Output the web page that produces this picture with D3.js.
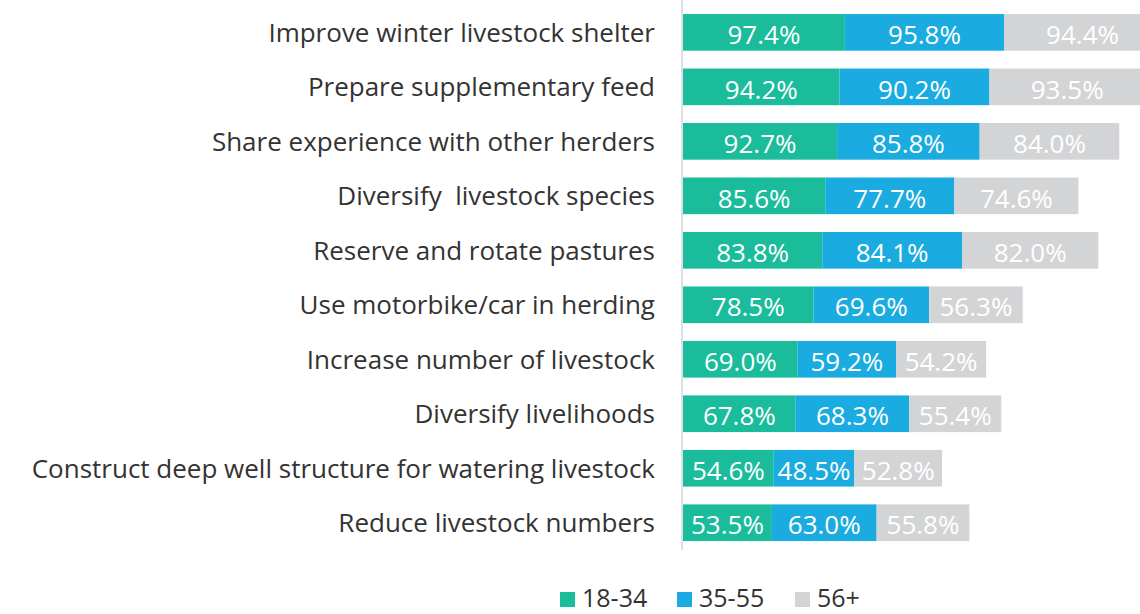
<!DOCTYPE html>
<html>
<head>
<meta charset="utf-8">
<script src="https://cdn.jsdelivr.net/npm/d3@7"></script>
<style>
  html, body { margin: 0; padding: 0; background: #fff; }
  svg { display: block; }
  text { font-family: "Open Sans", "Noto Sans", sans-serif; }
</style>
</head>
<body>
<svg id="chart" width="1140" height="614"></svg>
<script>
// Adaptation strategies by herder age group (% of respondents)
const categories = [
  "Improve winter livestock shelter",
  "Prepare supplementary feed",
  "Share experience with other herders",
  "Diversify  livestock species",
  "Reserve and rotate pastures",
  "Use motorbike/car in herding",
  "Increase number of livestock",
  "Diversify livelihoods",
  "Construct deep well structure for watering livestock",
  "Reduce livestock numbers"
];
const age18to34 = [97.4, 94.2, 92.7, 85.6, 83.8, 78.5, 69.0, 67.8, 54.6, 53.5];
const age35to55 = [95.8, 90.2, 85.8, 77.7, 84.1, 69.6, 59.2, 68.3, 48.5, 63.0];
const age56plus = [94.4, 93.5, 84.0, 74.6, 82.0, 56.3, 54.2, 55.4, 52.8, 55.8];
const seriesNames = ["18-34", "35-55", "56+"];
const seriesColors = ["#1abc9c", "#1aabe0", "#d3d4d6"];

const svg = d3.select("#chart");
const x0 = 683;

const rows = categories.map((c, i) => ({
  cat: c, "18-34": age18to34[i], "35-55": age35to55[i], "56+": age56plus[i]
}));
const stacked = d3.stack().keys(seriesNames)(rows);

const x = d3.scaleLinear().domain([0, 300]).range([x0, x0 + 498.6]);
const y = d3.scaleBand().domain(categories).range([-2.3, 557.4]).paddingInner(0.327).paddingOuter(0.3);

const plot = svg.append("g");

stacked.forEach((layer, si) => {
  const g = plot.append("g");
  g.selectAll("rect").data(layer).join("rect")
    .attr("x", d => x(d[0]))
    .attr("y", d => y(d.data.cat))
    .attr("width", d => x(d[1]) - x(d[0]))
    .attr("height", y.bandwidth())
    .attr("fill", seriesColors[si]);
  g.selectAll("text").data(layer).join("text")
    .attr("x", d => (x(d[0]) + x(d[1])) / 2)
    .attr("y", d => y(d.data.cat) + y.bandwidth() / 2)
    .attr("dy", "0.45em")
    .attr("text-anchor", "middle")
    .attr("fill", "#fff")
    .attr("font-size", 26)
    .text(d => (d[1] - d[0]).toFixed(1) + "%");
});

// category axis
const yAxis = d3.axisLeft(y).tickSize(0).tickPadding(27);
const ax = svg.append("g").attr("transform", `translate(${x0 - 1},0)`).call(yAxis);
ax.select(".domain").remove();
ax.selectAll("text")
  .attr("font-size", 26)
  .attr("fill", "#333")
  .attr("dy", "0.36em")
  .style("white-space", "pre")
  .style("font-family", "\"Open Sans\", sans-serif");
svg.append("line")
  .attr("x1", x0 - 1).attr("x2", x0 - 1)
  .attr("y1", 0).attr("y2", 550)
  .attr("stroke", "#dcdfe6").attr("stroke-width", 2);

// legend
const legend = svg.append("g").attr("transform", "translate(560,592)");
const legendX = [0, 117, 235];
seriesNames.forEach((n, i) => {
  const g = legend.append("g").attr("transform", `translate(${legendX[i]},0)`);
  g.append("rect").attr("width", 15).attr("height", 15).attr("fill", seriesColors[i]);
  g.append("text").attr("x", 22).attr("y", 15)
    .attr("font-size", 25).attr("fill", "#333").text(n);
});
</script>
</body>
</html>
